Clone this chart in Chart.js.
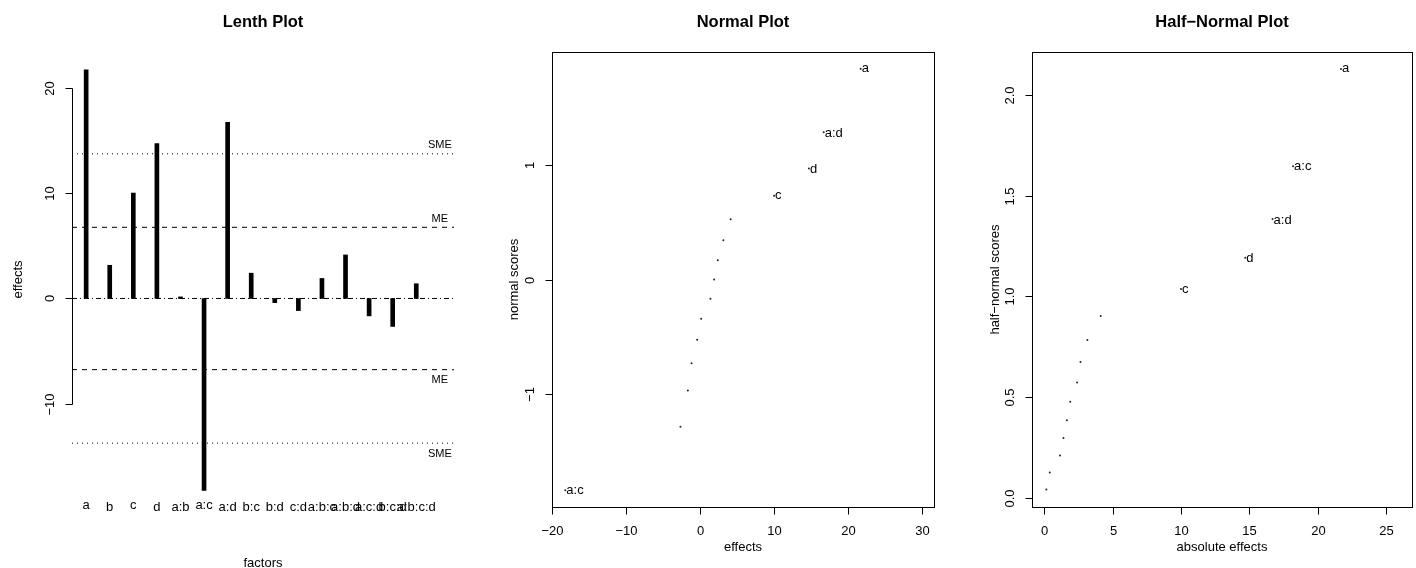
<!DOCTYPE html>
<html>
<head>
    <title>Lenth / Normal / Half-Normal Plots</title>
    <script src="https://cdn.jsdelivr.net/npm/chart.js"></script>
    <style>
        body { margin: 0; background: #fff; }
        #wrap { position: relative; width: 1416px; height: 568px; }
        canvas { position: absolute; left: 0; top: 0; }
    </style>
</head>
<body>
<div id="wrap">
    <canvas id="lenth" width="1416" height="568"></canvas>
    <canvas id="normal" width="1416" height="568"></canvas>
    <canvas id="half" width="1416" height="568"></canvas>
</div>
<script>
    // factor effects (cross-checked with the two normal plots)
    const factors = ['a', 'b', 'c', 'd', 'a:b', 'a:c', 'a:d', 'b:c', 'b:d', 'c:d', 'a:b:c', 'a:b:d', 'a:c:d', 'b:c:d', 'a:b:c:d'];
    const effects = [21.7, 3.15, 10.0, 14.7, 0.15, -18.2, 16.7, 2.4, -0.4, -1.15, 1.9, 4.13, -1.65, -2.65, 1.4];

    // margin of error / simultaneous margin of error
    const ME = 6.75;
    const SME = 13.72;

    // normal and half-normal scores, in ascending order
    const normalScores = [-1.834, -1.282, -0.967, -0.728, -0.524, -0.341, -0.168, 0, 0.168, 0.341, 0.524, 0.728, 0.967, 1.282, 1.834];
    const halfNormalScores = [0.042, 0.126, 0.210, 0.297, 0.385, 0.477, 0.573, 0.674, 0.784, 0.903, 1.036, 1.192, 1.383, 1.645, 2.128];

    // points that get a text label
    const labelledNormal = ['a:c', 'c', 'd', 'a:d', 'a'];
    const labelledHalf = ['c', 'd', 'a:d', 'a:c', 'a'];

    // tick values
    const lenthYTicks = [-10, 0, 10, 20];
    const normalXTicks = [-20, -10, 0, 10, 20, 30];
    const normalYTicks = [-1, 0, 1];
    const halfXTicks = [0, 5, 10, 15, 20, 25];
    const halfYTicks = [0, 0.5, 1, 1.5, 2];

    const FONT = '"Liberation Sans", Arial, Helvetica, sans-serif';
    const minus = v => String(v).replace('-', '\u2212');

    // draw text centred on its glyph box
    function textC(ctx, s, x, y, align) {
        ctx.textAlign = align || 'center';
        ctx.textBaseline = 'alphabetic';
        const m = ctx.measureText(s);
        ctx.fillText(s, x, y + (m.actualBoundingBoxAscent - m.actualBoundingBoxDescent) / 2);
    }
    function textRot(ctx, s, x, y) {
        ctx.save();
        ctx.translate(x, y);
        ctx.rotate(-Math.PI / 2);
        textC(ctx, s, 0, 0);
        ctx.restore();
    }

    // R-style axes, box, titles and point labels
    const rStyle = {
        id: 'rStyle',
        afterDatasetsDraw(chart, args, o) {
            const { ctx, chartArea: a, scales: { x, y } } = chart;
            ctx.save();
            ctx.strokeStyle = '#000';
            ctx.fillStyle = '#000';
            ctx.lineWidth = 1;
            const L = Math.round(a.left) + 0.5, B = Math.round(a.bottom) + 0.5;

            if (o.box) {
                ctx.strokeRect(L, Math.round(a.top) + 0.5, Math.round(a.right) - Math.round(a.left), Math.round(a.bottom) - Math.round(a.top));
            }
            ctx.font = '13px ' + FONT;
            if (o.yTicks) {
                const p = o.yTicks.map(v => Math.round(y.getPixelForValue(v)) + 0.5);
                ctx.beginPath();
                ctx.moveTo(L, Math.min(...p));
                ctx.lineTo(L, Math.max(...p));
                p.forEach(py => { ctx.moveTo(L, py); ctx.lineTo(L - 7, py); });
                ctx.stroke();
                o.yTicks.forEach((v, i) => textRot(ctx, o.yFmt ? o.yFmt(v) : minus(v), a.left - 23, p[i]));
            }
            if (o.xTicks) {
                const p = o.xTicks.map(v => Math.round(x.getPixelForValue(v)) + 0.5);
                ctx.beginPath();
                ctx.moveTo(Math.min(...p), B);
                ctx.lineTo(Math.max(...p), B);
                p.forEach(px => { ctx.moveTo(px, B); ctx.lineTo(px, B + 7); });
                ctx.stroke();
                o.xTicks.forEach((v, i) => textC(ctx, minus(v), p[i], a.bottom + 23));
            }
            const cx = (a.left + a.right) / 2, cy = (a.top + a.bottom) / 2;
            if (o.xTitle) textC(ctx, o.xTitle, cx, o.xTitleY);
            if (o.yTitle) textRot(ctx, o.yTitle, o.yTitleX, cy);

            // point labels
            if (o.pointLabels) {
                const meta = chart.getDatasetMeta(0);
                chart.data.datasets[0].data.forEach((d, i) => {
                    if (!o.pointLabels.includes(d.label)) return;
                    const el = meta.data[i];
                    textC(ctx, d.label, el.x + 1, el.y, 'left');
                });
            }
            // factor names under the Lenth bars, top aligned
            if (o.factorLabels) {
                ctx.textAlign = 'center';
                ctx.textBaseline = 'alphabetic';
                o.factorLabels.forEach((f, i) => {
                    const m = ctx.measureText(f);
                    ctx.fillText(f, x.getPixelForValue(i + 1), 502 + m.actualBoundingBoxAscent);
                });
            }
            // ME / SME tags
            if (o.marginTags) {
                ctx.font = '11px ' + FONT;
                const tx = x.getPixelForValue(16);
                [[SME, 'SME'], [ME, 'ME'], [-ME, 'ME'], [-SME, 'SME']].forEach(([v, s]) => {
                    textC(ctx, s, tx, y.getPixelForValue(v) + (v > 0 ? -9.5 : 9.5));
                });
            }
            if (o.title) {
                ctx.font = 'bold 16.5px ' + FONT;
                textC(ctx, o.title, cx, 20.7);
            }
            ctx.restore();
        }
    };
    Chart.register(rStyle);

    const hidden = { display: false };
    const refLine = (v, dash, x0, x1) => ({
        type: 'line',
        data: [{ x: x0, y: v }, { x: x1, y: v }],
        borderColor: '#000',
        borderWidth: 1,
        borderDash: dash,
        pointRadius: 0,
        fill: false
    });

    // Lenth plot
    const lx0 = 0.4, lx1 = 16.6;
    new Chart(document.getElementById('lenth'), {
        type: 'bar',
        data: {
            datasets: [
                {
                    data: effects.map((e, i) => ({ x: i + 1, y: e })),
                    backgroundColor: '#000',
                    borderWidth: 0,
                    barThickness: 4
                },
                refLine(0, [5, 3, 1, 3], lx0, lx1),
                refLine(ME, [5, 5], lx0, lx1),
                refLine(-ME, [5, 5], lx0, lx1),
                refLine(SME, [1, 4], lx0, lx1),
                refLine(-SME, [1, 4], lx0, lx1)
            ]
        },
        options: {
            responsive: false,
            animation: false,
            devicePixelRatio: 1,
            layout: { padding: { left: 72, right: 1416 - 454, top: 52, bottom: 568 - 507 } },
            scales: {
                x: { type: 'linear', min: lx0, max: lx1, offset: false, display: false },
                y: { min: -19.78, max: 23.38, display: false }
            },
            plugins: {
                legend: hidden, tooltip: { enabled: false },
                rStyle: {
                    title: 'Lenth Plot',
                    yTicks: lenthYTicks,
                    yTitle: 'effects', yTitleX: 17.3,
                    xTitle: 'factors', xTitleY: 562.7,
                    factorLabels: factors,
                    marginTags: true
                }
            }
        }
    });

    // sorted effects for the probability plots
    const byEffect = factors.map((f, i) => i).sort((i, j) => effects[i] - effects[j]);
    const byAbs = factors.map((f, i) => i).sort((i, j) => Math.abs(effects[i]) - Math.abs(effects[j]));

    const dots = {
        backgroundColor: '#222',
        borderWidth: 0,
        pointRadius: 1
    };

    // Normal plot
    new Chart(document.getElementById('normal'), {
        type: 'scatter',
        data: {
            datasets: [Object.assign({
                data: byEffect.map((i, k) => ({ x: effects[i], y: normalScores[k], label: factors[i] }))
            }, dots)]
        },
        options: {
            responsive: false,
            animation: false,
            devicePixelRatio: 1,
            layout: { padding: { left: 552, right: 1416 - 934, top: 52, bottom: 568 - 507 } },
            scales: {
                x: { type: 'linear', min: -20, max: 31.6, display: false },
                y: { min: -1.98, max: 1.98, display: false }
            },
            plugins: {
                legend: hidden, tooltip: { enabled: false },
                rStyle: {
                    title: 'Normal Plot',
                    box: true,
                    xTicks: normalXTicks,
                    yTicks: normalYTicks,
                    xTitle: 'effects', xTitleY: 546.7,
                    yTitle: 'normal scores', yTitleX: 513.3,
                    pointLabels: labelledNormal
                }
            }
        }
    });

    // Half-normal plot
    new Chart(document.getElementById('half'), {
        type: 'scatter',
        data: {
            datasets: [Object.assign({
                data: byAbs.map((i, k) => ({ x: Math.abs(effects[i]), y: halfNormalScores[k], label: factors[i] }))
            }, dots)]
        },
        options: {
            responsive: false,
            animation: false,
            devicePixelRatio: 1,
            layout: { padding: { left: 1032, right: 1416 - 1413, top: 52, bottom: 568 - 507 } },
            scales: {
                x: { type: 'linear', min: -0.9, max: 26.9, display: false },
                y: { min: -0.045, max: 2.212, display: false }
            },
            plugins: {
                legend: hidden, tooltip: { enabled: false },
                rStyle: {
                    title: 'Half\u2212Normal Plot',
                    box: true,
                    xTicks: halfXTicks,
                    yTicks: halfYTicks,
                    yFmt: v => v.toFixed(1),
                    xTitle: 'absolute effects', xTitleY: 546.7,
                    yTitle: 'half\u2212normal scores', yTitleX: 994.3,
                    pointLabels: labelledHalf
                }
            }
        }
    });
</script>
</body>
</html>
